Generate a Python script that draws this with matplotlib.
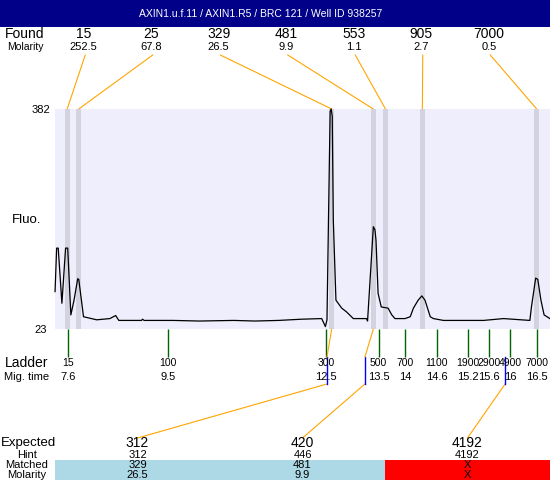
import matplotlib
matplotlib.use("Agg")
import matplotlib.pyplot as plt
from matplotlib.patches import Rectangle
from matplotlib.transforms import blended_transform_factory

plt.rcParams['font.family'] = ['Liberation Sans', 'DejaVu Sans']

title = "AXIN1.u.f.11 / AXIN1.R5 / BRC 121 / Well ID 938257"

# electropherogram trace: migration time (min) vs fluorescence
trace_time = [7.36, 7.39, 7.42, 7.49, 7.56, 7.60, 7.66, 7.72, 7.79, 7.81, 7.90, 8.15, 8.40,
              8.51, 8.57, 9.00, 9.02, 9.05, 9.60, 10.10, 10.75, 11.15, 11.60, 12.04, 12.42,
              12.49, 12.52, 12.55, 12.58, 12.60, 12.62, 12.64, 12.69, 12.80, 12.89, 13.02, 13.27,
              13.29, 13.40, 13.43, 13.45, 13.49, 13.55, 13.68, 13.75, 13.81, 14.00, 14.10,
              14.16, 14.25, 14.32, 14.38, 14.48, 14.54, 14.73, 15.49, 15.87, 16.37, 16.40,
              16.48, 16.52, 16.58, 16.64, 16.75]
trace_fluo = [84, 155, 155, 65, 155, 155, 46, 70, 105, 104, 43, 38, 40,
              45, 37, 37, 39, 37, 37, 36, 37, 36, 37, 39, 40,
              27, 38, 209, 378, 382, 370, 201, 70, 57, 51, 40, 40,
              36, 190, 185, 168, 81, 59, 57, 46, 40, 40, 43,
              57, 70, 77, 70, 43, 40, 37, 37, 40, 37, 59,
              106, 104, 70, 46, 40]
fluo_min, fluo_max = 23, 382
time_min, time_max = 7.359, 16.752

# found peaks
found_size = ['15', '25', '329', '481', '553', '905', '7000']
found_molarity = ['252.5', '67.8', '26.5', '9.9', '1.1', '2.7', '0.5']
found_time = [7.59, 7.81, 12.61, 13.40, 13.63, 14.33, 16.50]

# ladder
ladder_size = ['15', '100', '300', '500', '700', '1100', '1900', '2900', '4900', '7000']
ladder_mig = ['7.6', '9.5', '12.5', '13.5', '14', '14.6', '15.2', '15.6', '16', '16.5']
ladder_time = [7.6, 9.5, 12.5, 13.5, 14.0, 14.6, 15.2, 15.6, 16.0, 16.5]

# expected fragments
expected_size = ['312', '420', '4192']
expected_hint = ['312', '446', '4192']
expected_matched = ['329', '481', 'X']
expected_molarity = ['26.5', '9.9', 'X']
expected_time = [12.52, 13.24, 15.90]
matched_time = [12.61, 13.40, None]

orange = '#FFA500'

fig = plt.figure(figsize=(5.5, 4.8), dpi=100)

# overlay in pixel coords for all the labels and connectors
ov = fig.add_axes([0, 0, 1, 1], zorder=0)
ov.set_xlim(0, 550)
ov.set_ylim(480, 0)
ov.axis('off')

ax = fig.add_axes([55 / 550, (480 - 329) / 480, 495 / 550, 220 / 480], zorder=1)
ax.set_facecolor('#EEEEFC')
ax.set_xlim(time_min, time_max)
ax.set_ylim(fluo_min, fluo_max)
for s in ax.spines.values():
    s.set_visible(False)
ax.set_xticks([])
ax.set_yticks([])

for t in found_time:
    ax.axvspan(t - 0.048, t + 0.048, color='#D3D3E0', lw=0)
ax.plot(trace_time, trace_fluo, color='black', lw=0.9, clip_on=False)

trans = blended_transform_factory(ax.transData, ov.transData)
def px(t):
    # migration time -> overlay pixel x
    return ov.transData.inverted().transform(ax.transData.transform((t, fluo_min)))[0]

# title bar
ov.add_patch(Rectangle((0, 0), 550, 27, color='#000088', lw=0))
ov.text(261, 14, title, color='white', fontsize=7.5, ha='center', va='center')

# found row
ov.text(25, 34.5, 'Found', fontsize=10, ha='center', va='center')
ov.text(25.5, 46.5, 'Molarity', fontsize=7.5, ha='center', va='center')
for i in range(len(found_size)):
    cx = 50 + 67.5 * (i + 0.5)
    ov.text(cx, 34.5, found_size[i], fontsize=10, ha='center', va='center')
    ov.text(cx, 46.5, found_molarity[i], fontsize=8, ha='center', va='center')
    ov.plot([cx + 1.5, px(found_time[i])], [55, 109], color=orange, lw=0.8)

# y labels
ov.text(41, 110, str(fluo_max), fontsize=8, ha='center', va='center')
ov.text(41, 330, str(fluo_min), fontsize=8, ha='center', va='center')
ov.text(26.5, 220, 'Fluo.', fontsize=9.5, ha='center', va='center')

# ladder
ov.vlines(ladder_time, 329, 357, color='#006400', lw=1.0, transform=trans)
ov.text(27, 363, 'Ladder', fontsize=10, ha='center', va='center')
ov.text(26.5, 377, 'Mig. time', fontsize=8, ha='center', va='center')
for i in range(len(ladder_size)):
    ov.text(ladder_time[i], 363, ladder_size[i], fontsize=7.5, ha='center', va='center', transform=trans)
    ov.text(ladder_time[i], 377, ladder_mig[i], fontsize=8, ha='center', va='center', transform=trans)

# expected table
ov.text(28, 443, 'Expected', fontsize=9.5, ha='center', va='center')
ov.text(27, 455, 'Hint', fontsize=8, ha='center', va='center')
ov.text(27, 465, 'Matched', fontsize=8, ha='center', va='center')
ov.text(27, 474.5, 'Molarity', fontsize=8, ha='center', va='center')
for i in range(len(expected_size)):
    x0 = 55 + 165 * i
    cx = x0 + 82.5
    col = '#ADD8E6' if matched_time[i] is not None else '#FF0000'
    ov.add_patch(Rectangle((x0, 460), 165, 20, color=col, lw=0))
    ov.text(cx, 443, expected_size[i], fontsize=10, ha='center', va='center')
    ov.text(cx, 455, expected_hint[i], fontsize=8, ha='center', va='center')
    ov.text(cx, 465, expected_matched[i], fontsize=8, ha='center', va='center')
    ov.text(cx, 474.5, expected_molarity[i], fontsize=8, ha='center', va='center')
    ex = px(expected_time[i])
    ov.plot([cx, ex], [438, 384], color=orange, lw=0.8)
    ov.plot([ex, ex], [384, 357], color='#0000FF', lw=1.0)
    if matched_time[i] is not None:
        ov.plot([ex, px(matched_time[i])], [357, 329], color=orange, lw=0.8)

fig.savefig('out.png', dpi=100)
